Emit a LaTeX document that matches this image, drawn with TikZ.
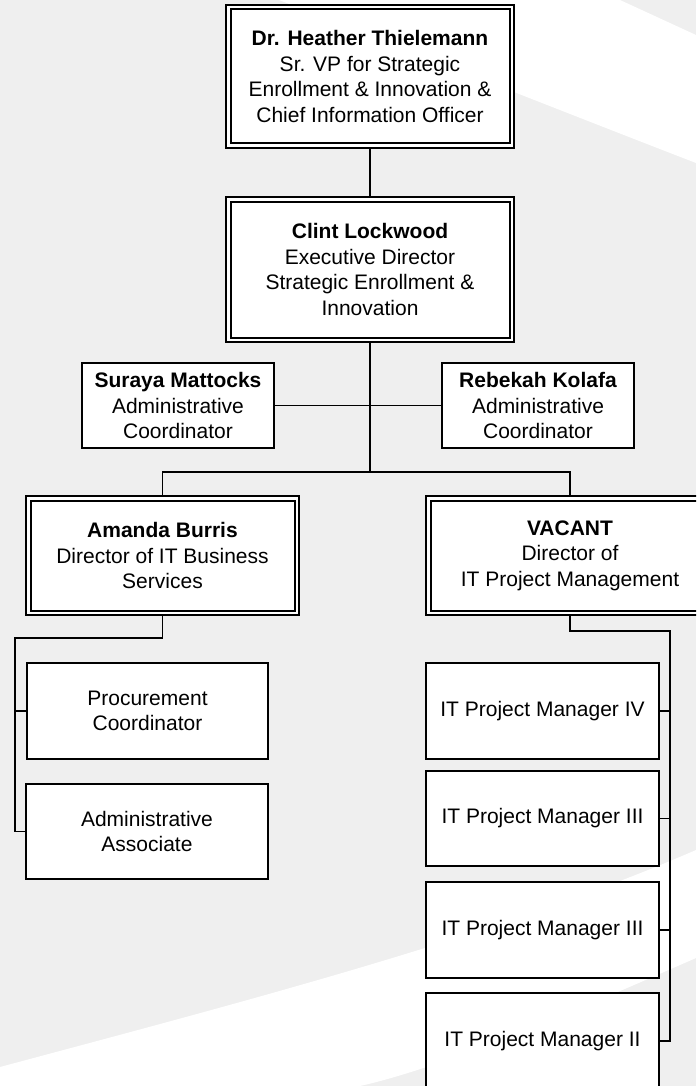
\documentclass[tikz,border=0pt]{standalone}
\usepackage{fontspec}
\setmainfont{Liberation Sans}
\definecolor{bg}{RGB}{239,239,239}
\tikzset{
  box/.style={draw, line width=1.4pt, fill=white, inner sep=0pt, outer sep=0pt,
    align=center, font=\fontsize{21}{25.5}\selectfont},
  dbox/.style={box, line width=1.1pt},
  innerline/.style={line width=2pt},
  conn/.style={line width=1.6pt}
}
\begin{document}
\begin{tikzpicture}[x=1pt,y=-1pt]
\useasboundingbox (0,0) rectangle (696,1086);
\clip (0,0) rectangle (696,1086);
% background
\fill[bg] (0,0) rectangle (696,1086);
\fill[white] (279,0) -- (620,0) -- (696,35) -- (696,163) .. controls (600,126) and (420,55) .. (279,0) -- cycle;
\fill[white] (0,1067) .. controls (250,1000) and (500,935) .. (696,850)
  -- (696,958) .. controls (600,1000) and (450,1066) .. (360,1086) -- (0,1086) -- cycle;

% double boxes
\node[dbox, minimum width=288pt, minimum height=143pt] (heather) at (370,76.5)
  {\textbf{Dr. Heather Thielemann}\\Sr. VP for Strategic\\Enrollment \& Innovation \&\\Chief Information Officer};
\node[dbox, minimum width=288pt, minimum height=145pt] (clint) at (370,269.5)
  {\textbf{Clint Lockwood}\\Executive Director\\Strategic Enrollment \&\\Innovation};
\node[dbox, minimum width=273pt, minimum height=119pt] (amanda) at (162.5,555.5)
  {\textbf{Amanda Burris}\\Director of IT Business\\Services};
\node[dbox, minimum width=288pt, minimum height=119pt] (vacant) at (570,555.5)
  {\textbf{VACANT}\\Director of\\IT Project Management};
\foreach \n in {heather,clint,amanda,vacant}
  \draw[innerline] ([shift={(4.5,4.5)}]\n.north west) rectangle ([shift={(-4.5,-4.5)}]\n.south east);

% single boxes
\node[box, minimum width=192pt, minimum height=85pt] (suraya) at (178,405.5)
  {\textbf{Suraya Mattocks}\\Administrative\\Coordinator};
\node[box, minimum width=192pt, minimum height=85pt] (rebekah) at (538,405.5)
  {\textbf{Rebekah Kolafa}\\Administrative\\Coordinator};
\node[box, minimum width=241pt, minimum height=96pt] (proc) at (147.5,711)
  {Procurement\\Coordinator};
\node[box, minimum width=242pt, minimum height=95pt] (assoc) at (147,831.5)
  {Administrative\\Associate};
\node[box, minimum width=233pt, minimum height=96pt] (pm4) at (542.5,711) {IT Project Manager IV};
\node[box, minimum width=233pt, minimum height=95pt] (pm3a) at (542.5,818.5) {IT Project Manager III};
\node[box, minimum width=233pt, minimum height=96pt] (pm3b) at (542.5,930) {IT Project Manager III};
\node[box, minimum width=233pt, minimum height=96pt] (pm2) at (542.5,1041) {IT Project Manager II};

% connectors
\coordinate (j1) at (370,472);
\coordinate (la) at (15,638);
\coordinate (ra) at (670,631);
\draw[conn] (heather.south) -- (clint.north);
\draw[conn] (clint.south) -- (j1);
\draw[conn] (suraya.east) -- (rebekah.west);
\draw[conn] (amanda.north) |- (j1) -| (vacant.north);
\draw[conn] (amanda.south) |- (la) |- (assoc.west);
\draw[conn] (proc.west) -- (proc.west -| la);
\draw[conn] (vacant.south) |- (ra) |- (pm2.east);
\foreach \n in {pm4,pm3a,pm3b}
  \draw[conn] (\n.east) -- (\n.east -| ra);
\end{tikzpicture}
\end{document}
